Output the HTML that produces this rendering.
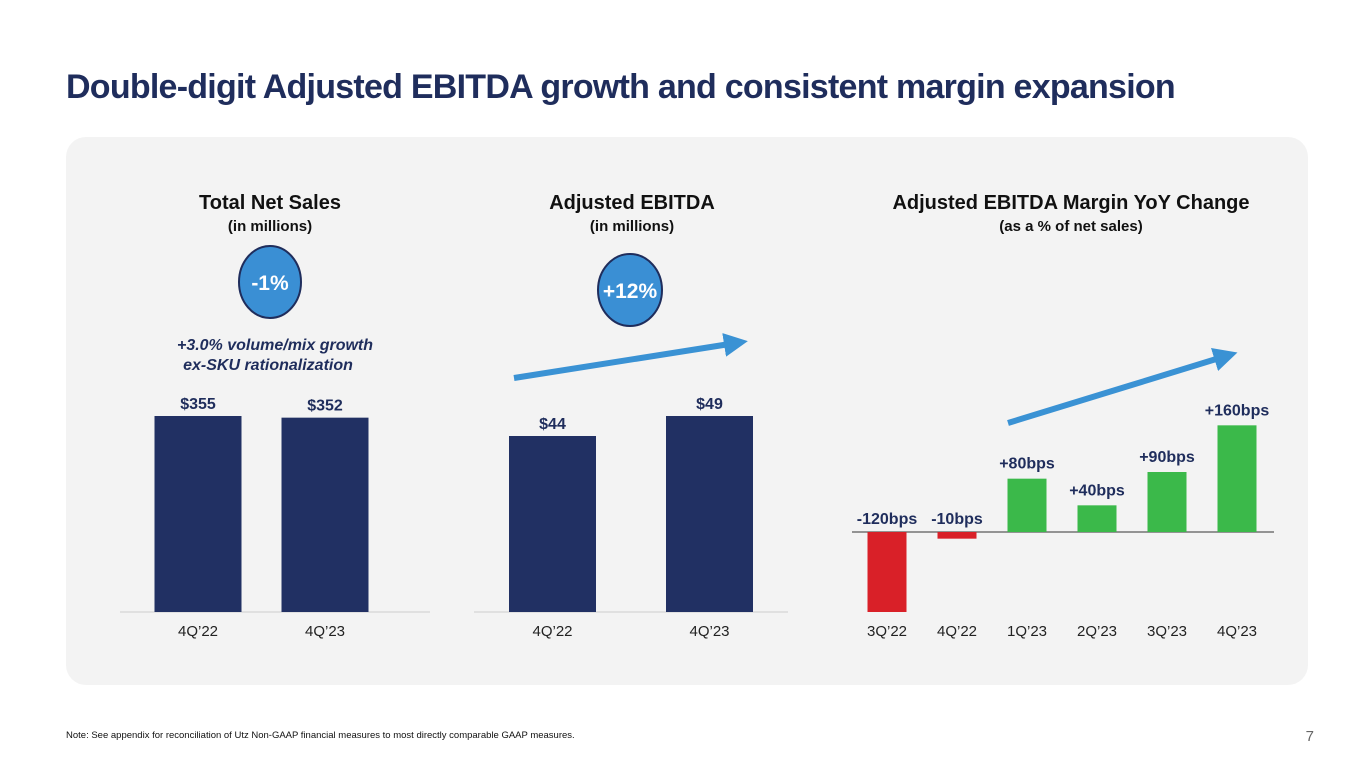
<!DOCTYPE html>
<html><head><meta charset="utf-8"><style>
html,body{margin:0;padding:0;background:#fff;}
svg{display:block;font-family:"Liberation Sans",sans-serif;}
</style></head><body>
<svg width="1365" height="768" viewBox="0 0 1365 768">
<defs><marker id="ah" markerWidth="4" markerHeight="4" refX="2" refY="2" orient="auto" markerUnits="strokeWidth"><path d="M0,0 L4,2 L0,4 Z" fill="#3a92d4"/></marker></defs>
<text x="66" y="98" font-size="34" font-weight="bold" fill="#1f2d5c" letter-spacing="-0.75">Double-digit Adjusted EBITDA growth and consistent margin expansion</text>
<rect x="66" y="137" width="1242" height="548" rx="20" fill="#f3f3f3"/>
<g fill="#111" font-weight="bold" text-anchor="middle">
<text x="270" y="209" font-size="20">Total Net Sales</text>
<text x="270" y="231" font-size="15">(in millions)</text>
<text x="632" y="209" font-size="20">Adjusted EBITDA</text>
<text x="632" y="231" font-size="15">(in millions)</text>
<text x="1071" y="209" font-size="20">Adjusted EBITDA Margin YoY Change</text>
<text x="1071" y="231" font-size="15">(as a % of net sales)</text>
</g>
<ellipse cx="270" cy="282" rx="31" ry="36" fill="#3a8fd4" stroke="#1f2d5c" stroke-width="2"/>
<text x="270" y="290" font-size="21" font-weight="bold" fill="#fff" text-anchor="middle">-1%</text>
<ellipse cx="630" cy="290" rx="32" ry="36" fill="#3a8fd4" stroke="#1f2d5c" stroke-width="2"/>
<text x="630" y="298" font-size="21" font-weight="bold" fill="#fff" text-anchor="middle">+12%</text>
<text x="275" y="350" font-size="16" font-weight="bold" font-style="italic" fill="#1f2d5c" text-anchor="middle">+3.0% volume/mix growth</text>
<text x="268" y="370" font-size="16" font-weight="bold" font-style="italic" fill="#1f2d5c" text-anchor="middle">ex-SKU rationalization</text>
<line x1="514" y1="378" x2="736" y2="343" stroke="#3a92d4" stroke-width="6" marker-end="url(#ah)"/>
<line x1="1008" y1="423" x2="1226" y2="356" stroke="#3a92d4" stroke-width="6" marker-end="url(#ah)"/>
<g id="charts"></g>
<text x="66" y="738" font-size="9.5" fill="#111">Note: See appendix for reconciliation of Utz Non-GAAP financial measures to most directly comparable GAAP measures.</text>
<text x="1314" y="741" font-size="15" fill="#666" text-anchor="end">7</text>
</svg>
<script>
const salesCats = ["4Q’22", "4Q’23"];
const salesVals = [355, 352];
const ebitdaCats = ["4Q’22", "4Q’23"];
const ebitdaVals = [44, 49];
const marginCats = ["3Q’22", "4Q’22", "1Q’23", "2Q’23", "3Q’23", "4Q’23"];
const marginVals = [-120, -10, 80, 40, 90, 160];

const NS = "http://www.w3.org/2000/svg";
const g = document.getElementById("charts");
function mk(tag, attrs, txt) {
  const e = document.createElementNS(NS, tag);
  for (const k in attrs) e.setAttribute(k, attrs[k]);
  if (txt !== undefined) e.textContent = txt;
  g.appendChild(e);
  return e;
}
function dollarChart(cats, vals, x0, x1, c0, step, pxPerUnit, prefix) {
  const base = 612;
  const y = v => base - v * pxPerUnit;
  const bw = 87;
  const ax = mk("line", {x1: x0, x2: x1, y1: base, y2: base, stroke: "#ccc", "stroke-width": 1});
  
  
  cats.forEach((c, i) => {
    const cx = c0 + step * i;
    const r = mk("rect", {x: cx - bw / 2, y: y(vals[i]), width: bw, height: base - y(vals[i]), fill: "#213063"});
    
    
    const t = mk("text", {x: cx, y: y(vals[i]) - 7, "font-size": 16, "font-weight": "bold", fill: "#1f2d5c", "text-anchor": "middle"}, "$" + vals[i]);
    
    
    const l = mk("text", {x: cx, y: 636, "font-size": 15, fill: "#222", "text-anchor": "middle"}, c);
    
    
  });
}
dollarChart(salesCats, salesVals, 120, 430, 198, 127, 196 / 355, "net-sales");
dollarChart(ebitdaCats, ebitdaVals, 474, 788, 552.5, 157, 196 / 49, "ebitda");

(function () {
  const zero = 532, k = 80 / 120;
  const y = v => zero - v * k;
  const c0 = 887, step = 70, bw = 39;
  const ax = mk("line", {x1: 852, x2: 1274, y1: zero, y2: zero, stroke: "#333", "stroke-width": 1});
  
  
  marginCats.forEach((c, i) => {
    const cx = c0 + step * i, v = marginVals[i];
    const top = Math.min(y(v), zero), h = Math.abs(y(v) - zero);
    const r = mk("rect", {x: cx - bw / 2, y: top, width: bw, height: h, fill: v < 0 ? "#d92028" : "#3bb94a"});
    
    
    const ly = v < 0 ? zero - 8 : y(v) - 10;
    const t = mk("text", {x: cx, y: ly, "font-size": 16, "font-weight": "bold", fill: "#1f2d5c", "text-anchor": "middle"}, (v > 0 ? "+" : "") + v + "bps");
    
    
    const l = mk("text", {x: cx, y: 636, "font-size": 15, fill: "#222", "text-anchor": "middle"}, c);
    
    
  });
})();
</script>
</body></html>
